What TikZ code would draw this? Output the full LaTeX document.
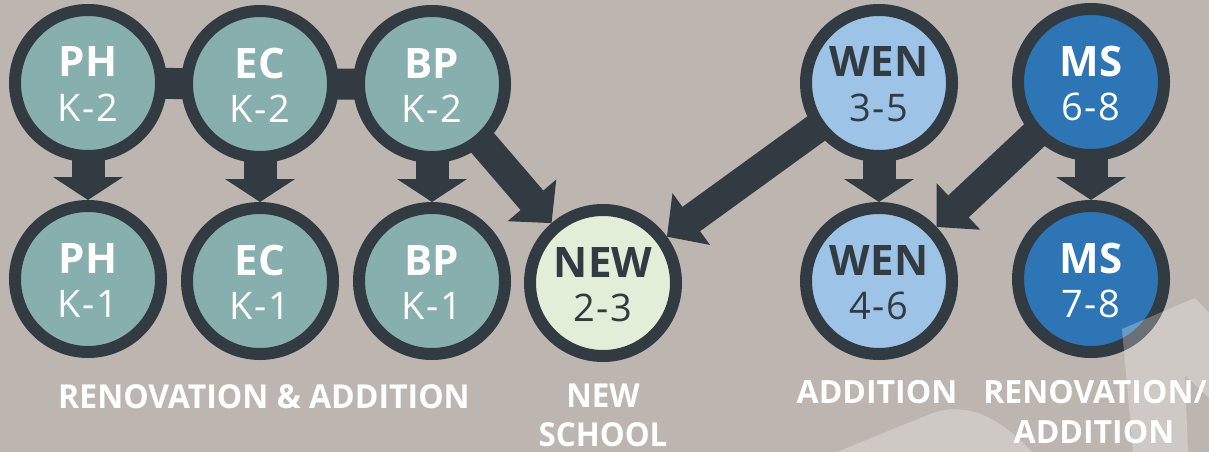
\documentclass[tikz,border=0pt]{standalone}
\usepackage{fontspec}
\setmainfont{Open Sans}
\usetikzlibrary{calc}
\definecolor{bgc}{HTML}{BDB5AF}
\definecolor{ringc}{HTML}{323A42}
\definecolor{tealc}{HTML}{87AFAD}
\definecolor{newc}{HTML}{E2EED8}
\definecolor{wenc}{HTML}{9DC3E6}
\definecolor{msc}{HTML}{2E75B6}
\pgfdeclarelayer{back}\pgfdeclarelayer{conn}\pgfdeclarelayer{front}
\pgfsetlayers{back,conn,main,front}
\tikzset{
  school/.style={circle, draw=ringc, line width=12pt, minimum size=146pt, inner sep=0pt},
  sname/.style={anchor=base, inner sep=0pt, font=\bfseries\fontsize{42}{42}\selectfont},
  sgrade/.style={anchor=base, inner sep=0pt, font=\fontsize{38}{38}\selectfont},
  caption/.style={anchor=base, inner sep=0pt, text=white, font=\bfseries\fontsize{33}{33}\selectfont},
  rcaption/.style={anchor=base, inner sep=0pt, text=white, font=\bfseries\fontsize{32}{32}\selectfont},
  overlay/.style={fill=white, fill opacity=0.28},
}
% id, position, fill, text colour, name, grade
\newcommand\schoolnode[6]{%
  \node[school, fill=#3] (#1) at #2 {};
  \node[sname, text=#4] (#1n) at ($(#1.center)+(0,-6)$) {#5};
  \node[sgrade, text=#4] (#1g) at ($(#1.center)+(0,38)$) {\addfontfeatures{LetterSpace=4}#6};
}
% from, to, shaft width, half head width, tip distance, back distance, shaft end distance
\newcommand\fatarrow[7]{%
  \coordinate (#1#2t) at ($(#2.center)!#5!(#1.center)$);
  \coordinate (#1#2b) at ($(#2.center)!#6!(#1.center)$);
  \draw[ringc, line width=#3] (#1.center) -- ($(#2.center)!#7!(#1.center)$);
  \fill[ringc] (#1#2t) -- ($(#1#2b)!#4!90:(#1#2t)$) -- ($(#1#2b)!#4!-90:(#1#2t)$) -- cycle;
}
\begin{document}
\begin{tikzpicture}[x=1pt, y=-1pt]
\useasboundingbox (0,0) rectangle (1209,452);
\begin{pgfonlayer}{back}
  \fill[bgc] (0,0) rectangle (1209,452);
\end{pgfonlayer}

\schoolnode{PHa}{(88,83)}{tealc}{white}{PH}{K-2}
\schoolnode{ECa}{(260,84)}{tealc}{white}{EC}{K-2}
\schoolnode{BPa}{(432,84)}{tealc}{white}{BP}{K-2}
\schoolnode{WENa}{(879,83)}{wenc}{ringc}{WEN}{3-5}
\schoolnode{MSa}{(1091,82)}{msc}{white}{MS}{6-8}

\schoolnode{PHb}{(88,279)}{tealc}{white}{PH}{K-1}
\schoolnode{ECb}{(260,281)}{tealc}{white}{EC}{K-1}
\schoolnode{BPb}{(432,281)}{tealc}{white}{BP}{K-1}
\schoolnode{NEW}{(603,283)}{newc}{ringc}{NEW}{2-3}
\schoolnode{WENb}{(879,281)}{wenc}{ringc}{WEN}{4-6}
\schoolnode{MSb}{(1091,279)}{msc}{white}{MS}{7-8}

\begin{pgfonlayer}{conn}
  \draw[ringc, line width=31pt] (PHa.center) -- (ECa.center) -- (BPa.center);
  \fatarrow{PHa}{PHb}{33pt}{35pt}{79pt}{102pt}{92pt}
  \fatarrow{ECa}{ECb}{33pt}{35pt}{79pt}{102pt}{92pt}
  \fatarrow{BPa}{BPb}{33pt}{35pt}{79pt}{102pt}{92pt}
  \fatarrow{WENa}{WENb}{33pt}{35pt}{79pt}{102pt}{92pt}
  \fatarrow{MSa}{MSb}{33pt}{35pt}{79pt}{102pt}{92pt}
  \fatarrow{BPa}{NEW}{30pt}{32pt}{79pt}{109pt}{96pt}
  \fatarrow{WENa}{NEW}{30pt}{32pt}{79pt}{109pt}{96pt}
  \fatarrow{MSa}{WENb}{30pt}{32pt}{79pt}{109pt}{96pt}
\end{pgfonlayer}

\node[caption] (c1) at (264,408) {\scalebox{0.97}[1]{RENOVATION \& ADDITION}};
\node[caption] (c2) at (603,407) {\scalebox{0.95}[1]{NEW}};
\node[caption] (c3) at (603,446) {\scalebox{0.95}[1]{SCHOOL}};
\node[rcaption] (c4) at (877,403) {ADDITION};
\node[rcaption] (c5) at (1095,403) {RENOVATION/};
\node[rcaption] (c6) at (1094,443) {ADDITION};

\begin{pgfonlayer}{front}
  \fill[overlay] (1122,329) -- (1195,298) -- (1209,313) -- (1209,398) -- (1185,375)
    -- (1188,452) -- (1133,452) -- cycle;
  \fill[overlay] (837,452) -- (930,414) .. controls (962,402) and (995,412) .. (1032,452) -- cycle;
\end{pgfonlayer}
\end{tikzpicture}
\end{document}
